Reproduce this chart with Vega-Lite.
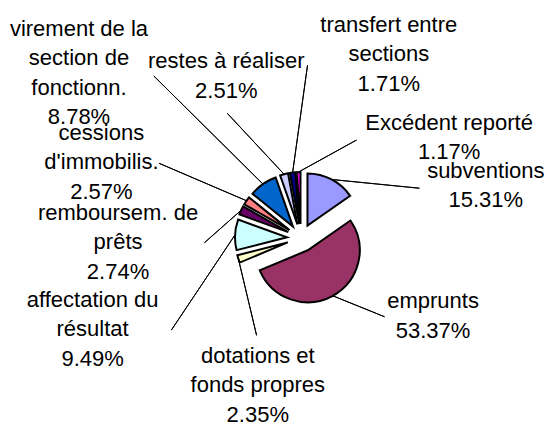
{
  "$schema": "https://vega.github.io/schema/vega-lite/v6.json",
  "width": 492,
  "height": 376,
  "autosize": "none",
  "padding": {"left": 55, "top": 50, "right": 0, "bottom": 0},
  "background": "white",
  "config": {"view": {"stroke": null}},
  "data": {
    "values": [
      {"i": 0, "category": "subventions", "value": 15.31, "label": "subventions\n15.31%"},
      {"i": 1, "category": "emprunts", "value": 53.37, "label": "emprunts\n53.37%"},
      {"i": 2, "category": "dotations et fonds propres", "value": 2.35, "label": "dotations et\nfonds propres\n2.35%"},
      {"i": 3, "category": "affectation du résultat", "value": 9.49, "label": "affectation du\nrésultat\n9.49%"},
      {"i": 4, "category": "remboursem. de prêts", "value": 2.74, "label": "remboursem. de\nprêts\n2.74%"},
      {"i": 5, "category": "cessions d'immobilis.", "value": 2.57, "label": "cessions\nd'immobilis.\n2.57%"},
      {"i": 6, "category": "virement de la section de fonctionn.", "value": 8.78, "label": "virement de la\nsection de\nfonctionn.\n8.78%"},
      {"i": 7, "category": "restes à réaliser", "value": 2.51, "label": "restes à réaliser\n2.51%"},
      {"i": 8, "category": "transfert entre sections", "value": 1.71, "label": "transfert entre\nsections\n1.71%"},
      {"i": 9, "category": "Excédent reporté", "value": 1.17, "label": "Excédent reporté\n1.17%"}
    ]
  },
  "transform": [
    {"stack": "value", "groupby": [], "sort": [{"field": "i", "order": "ascending"}], "as": ["t0", "t1"]}
  ],
  "layer": [
    {
      "mark": {
        "type": "arc",
        "radius": 52,
        "stroke": "black",
        "strokeWidth": 2,
        "x": {"expr": "width/2 + 14*sin(PI*(datum.t0+datum.t1)/100)"},
        "y": {"expr": "height/2 - 14*cos(PI*(datum.t0+datum.t1)/100)"}
      },
      "encoding": {
        "theta": {"field": "t0", "type": "quantitative", "stack": null, "scale": {"domain": [0, 100], "zero": false, "nice": false}},
        "theta2": {"field": "t1"},
        "color": {
          "field": "category",
          "type": "nominal",
          "legend": null,
          "scale": {
            "domain": ["subventions", "emprunts", "dotations et fonds propres", "affectation du résultat", "remboursem. de prêts", "cessions d'immobilis.", "virement de la section de fonctionn.", "restes à réaliser", "transfert entre sections", "Excédent reporté"],
            "range": ["#9999FF", "#993366", "#FFFFCC", "#CCFFFF", "#660066", "#FF8080", "#0066CC", "#CCCCFF", "#000080", "#FF00FF"]
          }
        }
      }
    },
    {
      "mark": {
        "type": "arc",
        "filled": false,
        "stroke": "black",
        "strokeWidth": 1,
        "x": {"expr": "width/2 + 66*sin(PI*(datum.t0+datum.t1)/100)"},
        "y": {"expr": "height/2 - 66*cos(PI*(datum.t0+datum.t1)/100)"}
      },
      "encoding": {
        "theta": {"field": "i", "type": "quantitative", "stack": null, "scale": {"type": "linear", "zero": false, "nice": false, "domain": [0, 1, 2, 3, 4, 5, 6, 7, 8, 9], "range": [1.670, 1.955, 2.908, 3.731, 3.988, 5.117, 5.493, 5.533, 0.138, 1.066]}},
        "theta2": {"field": "i"},
        "radius": {"field": "i", "type": "quantitative", "scale": {"type": "linear", "zero": false, "nice": false, "domain": [0, 1, 2, 3, 4, 5, 6, 7, 8, 9], "range": [88.3, 55.8, 78.5, 114.6, 48.9, 95.2, 153.6, 83.3, 108.5, 66.2]}},
        "radius2": {"value": 0}
      }
    },
    {
      "mark": {
        "type": "text",
        "font": "Liberation Sans",
        "fontSize": 22,
        "lineBreak": "\n",
        "lineHeight": 29.5,
        "align": "center",
        "baseline": "top",
        "color": "black"
      },
      "encoding": {
        "theta": {"field": "i", "type": "quantitative", "stack": null, "scale": {"type": "linear", "zero": false, "nice": false, "domain": [0, 1, 2, 3, 4, 5, 6, 7, 8, 9], "range": [1.1741, 1.9548, 3.5224, 4.4697, 4.9020, 5.2355, 5.4911, 5.9024, 0.3745, 0.8694]}},
        "radius": {"field": "i", "type": "quantitative", "scale": {"type": "linear", "zero": false, "nice": false, "domain": [0, 1, 2, 3, 4, 5, 6, 7, 8, 9], "range": [200.4, 142.4, 116.2, 214.7, 186.3, 230.4, 311.9, 201.1, 240.0, 193.9]}},
        "text": {"field": "label"}
      }
    }
  ],
  "resolve": {"scale": {"theta": "independent", "radius": "independent"}}
}
